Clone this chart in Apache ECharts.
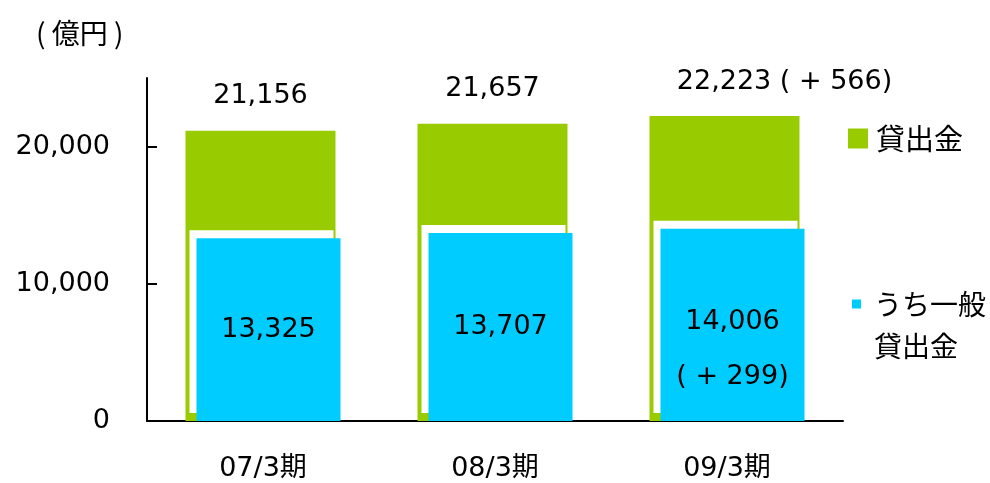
<!DOCTYPE html>
<html>
<head>
<meta charset="utf-8">
<script src="https://cdn.jsdelivr.net/npm/echarts@6/dist/echarts.min.js"></script>
<style>
    html, body { margin: 0; padding: 0; background: #fff; }
    #chart { width: 990px; height: 483px; }
</style>
</head>
<body>
<div id="chart"></div>
<script>
var categories = ['07/3期', '08/3期', '09/3期'];
var loanValues = [21156, 21657, 22223];
var generalValues = [13325, 13707, 14006];
var loanNotes = ['', '', '( + 566)'];
var generalNotes = ['', '', '( + 299)'];
var yTicks = [0, 10000, 20000];

var NUM_FONT = 'DejaVu Sans, Noto Sans CJK JP';
var JP_FONT = 'Noto Sans CJK JP';

function fmt(v) {
    return v.toLocaleString('en-US');
}

function makeOption() {
    // 貸出金（緑）
    var loanData = loanValues.map(function (v, i) {
        var item = { value: v };
        if (loanNotes[i]) {
            item.label = { offset: [60, 0] };
        }
        return item;
    });
    // うち一般貸出金（青）
    var generalData = generalValues.map(function (v, i) {
        var item = { value: v };
        if (generalNotes[i]) {
            item.label = { lineHeight: 55, offset: [0, 25] };
        }
        return item;
    });

    var option = {
        animation: false,
        title: {
            text: '( 億円 )',
            left: 36,
            top: 19,
            padding: 0,
            textStyle: { fontFamily: JP_FONT, fontSize: 28, fontWeight: 'normal', color: '#000' }
        },
        legend: [{
            data: ['貸出金'],
            left: 848,
            top: 124,
            padding: 0,
            icon: 'rect',
            itemWidth: 20,
            itemHeight: 20,
            selectedMode: false,
            textStyle: { fontFamily: JP_FONT, fontSize: 29, color: '#000', padding: [0, 0, 0, 3] }
        }, {
            data: ['うち一般貸出金'],
            left: 852,
            top: 241,
            padding: 0,
            icon: 'rect',
            itemWidth: 9,
            itemHeight: 9,
            selectedMode: false,
            formatter: function () {
                return ' \nうち一般\n貸出金';
            },
            textStyle: { fontFamily: JP_FONT, fontSize: 28, lineHeight: 42, color: '#000', padding: [0, 0, 0, 8] }
        }],
        grid: {
            left: 147,
            right: 147,
            top: 78,
            bottom: 62
        },
        xAxis: {
            type: 'category',
            data: categories,
            axisLine: { lineStyle: { color: '#000', width: 2 } },
            axisTick: { inside: true, length: 10, lineStyle: { color: '#000', width: 2 } },
            axisLabel: { margin: 34, fontFamily: NUM_FONT, fontSize: 27, color: '#000' }
        },
        yAxis: {
            type: 'value',
            min: 0,
            max: 25000,
            interval: 10000,
            splitLine: { show: false },
            axisLine: { show: true, lineStyle: { color: '#000', width: 2 } },
            axisTick: { show: true, inside: true, length: 10, customValues: yTicks, lineStyle: { color: '#000', width: 2 } },
            axisLabel: {
                customValues: yTicks,
                margin: 37,
                fontFamily: NUM_FONT,
                fontSize: 27,
                color: '#000',
                formatter: function (v) { return fmt(v); }
            }
        },
        series: [{
            name: '貸出金',
            type: 'bar',
            barWidth: 150,
            barGap: '-92.67%',
            itemStyle: { color: '#99cc00' },
            label: {
                show: true,
                position: 'top',
                distance: 21,
                fontFamily: NUM_FONT,
                fontSize: 27,
                color: '#000',
                formatter: function (p) {
                    var note = loanNotes[p.dataIndex];
                    return fmt(p.value) + (note ? ' ' + note : '');
                }
            },
            data: loanData
        }, {
            name: 'うち一般貸出金',
            type: 'bar',
            barWidth: 144,
            itemStyle: {
                color: '#00ccff',
                shadowColor: '#ffffff',
                shadowBlur: 0,
                shadowOffsetX: -7,
                shadowOffsetY: -8
            },
            label: {
                show: true,
                position: 'inside',
                fontFamily: NUM_FONT,
                fontSize: 27,
                color: '#000',
                formatter: function (p) {
                    var note = generalNotes[p.dataIndex];
                    return fmt(p.value) + (note ? '\n' + note : '');
                }
            },
            data: generalData
        }]
    };
    return option;
}

function setChart(id, option) {
    var myChart = echarts.init(document.getElementById(id));
    myChart.setOption(option);
}

setChart('chart', makeOption());
</script>
</body>
</html>
